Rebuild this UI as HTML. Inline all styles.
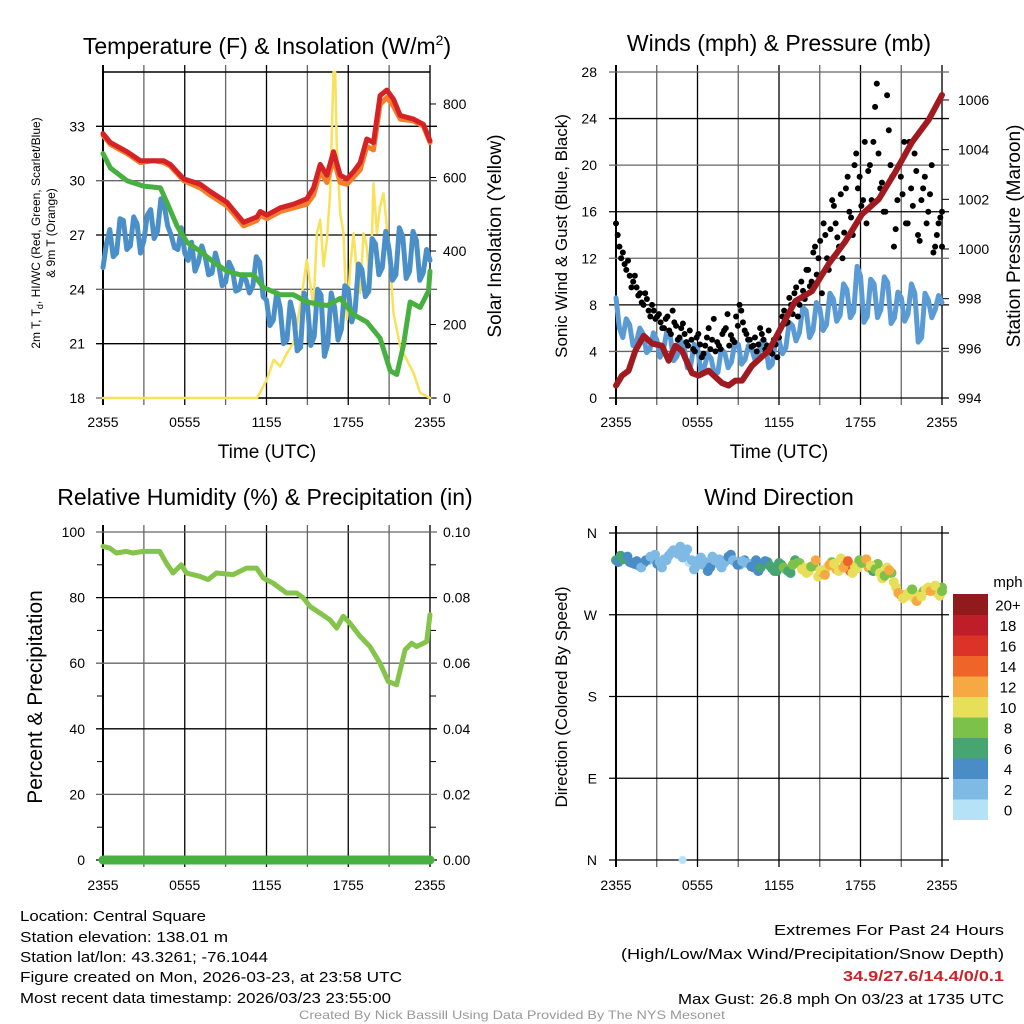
<!DOCTYPE html>
<html><head><meta charset="utf-8"><style>
html,body{margin:0;padding:0;background:#fff;}
svg{display:block;font-family:"Liberation Sans",Arial,sans-serif;}
</style></head><body>
<svg id="chart" width="1024" height="1024" viewBox="0 0 1024 1024" xmlns="http://www.w3.org/2000/svg">
<rect width="1024" height="1024" fill="#fff"/>
<g id="layer"></g>
<text x="267" y="54" text-anchor="middle" font-size="23">Temperature (F) &amp; Insolation (W/m<tspan dy="-9" font-size="14">2</tspan><tspan dy="9">)</tspan></text>
<text x="779" y="51" text-anchor="middle" font-size="23">Winds (mph) &amp; Pressure (mb)</text>
<text x="265" y="505" text-anchor="middle" font-size="23">Relative Humidity (%) &amp; Precipitation (in)</text>
<text x="779" y="505" text-anchor="middle" font-size="23">Wind Direction</text>
<text x="267" y="458" text-anchor="middle" font-size="19">Time (UTC)</text>
<text x="779" y="458" text-anchor="middle" font-size="19">Time (UTC)</text>
<g font-size="12">
<text transform="translate(40,233) rotate(-90)" text-anchor="middle">2m T, T<tspan font-size="9" dy="3">d</tspan><tspan dy="-3">, HI/WC (Red, Green, Scarlet/Blue)</tspan></text>
<text transform="translate(55,233) rotate(-90)" text-anchor="middle">&amp; 9m T (Orange)</text>
</g>
<text transform="translate(501,236) rotate(-90)" text-anchor="middle" font-size="19">Solar Insolation (Yellow)</text>
<text transform="translate(567,236) rotate(-90)" text-anchor="middle" font-size="17">Sonic Wind &amp; Gust (Blue, Black)</text>
<text transform="translate(1020,236) rotate(-90)" text-anchor="middle" font-size="19">Station Pressure (Maroon)</text>
<text transform="translate(42,697) rotate(-90)" text-anchor="middle" font-size="21">Percent &amp; Precipitation</text>
<text transform="translate(567,697) rotate(-90)" text-anchor="middle" font-size="17">Direction (Colored By Speed)</text>
<g font-size="15">
<text x="20" y="921" textLength="186" lengthAdjust="spacingAndGlyphs">Location: Central Square</text>
<text x="20" y="942" textLength="208" lengthAdjust="spacingAndGlyphs">Station elevation: 138.01 m</text>
<text x="20" y="962" textLength="248" lengthAdjust="spacingAndGlyphs">Station lat/lon: 43.3261; -76.1044</text>
<text x="20" y="982" textLength="382" lengthAdjust="spacingAndGlyphs">Figure created on Mon, 2026-03-23, at 23:58 UTC</text>
<text x="20" y="1003" textLength="371" lengthAdjust="spacingAndGlyphs">Most recent data timestamp: 2026/03/23 23:55:00</text>
</g>
<g font-size="15" text-anchor="end">
<text x="1004" y="935" textLength="230" lengthAdjust="spacingAndGlyphs">Extremes For Past 24 Hours</text>
<text x="1004" y="959" textLength="383" lengthAdjust="spacingAndGlyphs">(High/Low/Max Wind/Precipitation/Snow Depth)</text>
<text x="1004" y="981" fill="#cc2229" font-weight="bold" textLength="161" lengthAdjust="spacingAndGlyphs">34.9/27.6/14.4/0/0.1</text>
<text x="1004" y="1004" textLength="326" lengthAdjust="spacingAndGlyphs">Max Gust: 26.8 mph On 03/23 at 1735 UTC</text>
</g>
<text x="512" y="1019" text-anchor="middle" font-size="12" fill="#999" textLength="426" lengthAdjust="spacingAndGlyphs">Created By Nick Bassill Using Data Provided By The NYS Mesonet</text>
</svg>
<script>
// ---- Temperature panel data ----
const tRedHours=[0,0.54,1.76,2.74,3.72,4.45,4.94,5.92,7.14,7.87,9.10,10.32,11.30,11.54,12.03,13.01,13.99,14.96,15.45,15.94,16.43,16.92,17.41,17.90,18.39,18.88,19.36,19.85,20.34,20.83,21.32,21.81,22.79,23.52,24];
const tempRed=[32.6,32.1,31.6,31.1,31.1,31.1,30.9,30.1,29.8,29.4,28.8,27.7,28.0,28.3,28.1,28.5,28.7,29.0,29.6,30.9,30.3,31.6,30.3,30.1,30.5,31.0,32.3,32.1,34.7,35.0,34.5,33.6,33.4,33.1,32.2];
const temp9m=[32.5,32.0,31.5,31.0,31.1,31.0,30.8,30.0,29.6,29.2,28.6,27.5,27.8,28.1,27.9,28.3,28.5,28.7,29.2,30.5,29.9,31.2,29.9,29.8,30.2,30.6,31.9,31.7,34.2,34.6,34.1,33.4,33.3,33.0,32.1];
const tDewHours=[0,0.54,1.76,2.98,4.21,4.69,5.43,6.16,7.14,8.12,9.10,10.07,11.05,11.78,13.01,13.99,14.96,16.43,17.41,18.39,19.36,20.34,21.08,21.56,22.05,22.54,23.28,23.89,24];
const dewpoint=[31.5,30.7,30.0,29.7,29.6,28.8,27.5,26.6,26.1,25.5,25.0,24.8,24.8,24.1,23.7,23.7,23.3,23.1,23.5,22.6,22.2,21.3,19.5,19.3,20.9,23.3,23.0,23.9,25.0];
const windChill=[25.2,26.5,27.3,25.8,26.0,27.9,27.8,26.2,26.4,28.0,27.6,26.0,26.7,28.1,28.4,26.8,27.2,29.0,28.6,27.5,27.0,26.3,26.2,27.4,26.0,25.6,26.6,25.0,25.5,26.4,25.8,24.8,24.9,26.0,25.3,24.2,24.4,25.5,25.1,23.9,24.0,24.8,24.5,23.8,24.2,25.8,25.5,23.6,23.4,22.0,22.3,23.8,23.0,21.0,21.2,23.3,22.5,20.6,20.8,23.8,23.2,20.9,21.4,24.0,23.7,20.3,21.0,23.8,23.0,21.2,21.8,24.2,24.0,22.2,22.8,25.4,25.1,23.6,23.9,26.8,26.5,24.8,25.2,27.2,26.2,24.5,24.8,27.4,26.9,24.6,25.0,27.2,26.7,24.5,24.9,26.2,25.6];
const solarHours=[0,11.30,12.03,12.52,13.01,13.50,13.99,14.47,14.96,15.45,15.70,15.94,16.19,16.43,16.67,16.92,17.04,17.16,17.41,17.65,17.90,18.14,18.39,18.63,18.88,19.12,19.36,19.61,19.85,20.10,20.34,20.59,20.83,21.08,21.32,21.81,22.30,22.79,23.28,24];
const solar=[0,0,50,104,86,122,150,249,376,249,448,485,358,430,557,887,887,684,503,448,213,358,448,340,285,448,412,285,584,448,521,557,467,358,231,140,104,68,14,0];
const tempTicks=[18,21,24,27,30,33];
const solarTicks=[0,200,400,600,800];
const timeTickLabels=["2355","0555","1155","1755","2355"];
// ---- Wind panel data ----
const presHours=[0,0.44,0.93,1.42,2.04,2.65,3.39,3.88,4.37,4.86,5.60,6.09,6.82,7.80,8.29,8.79,9.28,10.01,11.24,12.22,13.20,14.43,15.66,16.88,18.11,19.34,20.56,21.79,23.02,24];
const pressure=[994.5,994.9,995.1,995.9,996.5,996.2,996.1,995.5,996.1,995.9,995.0,994.9,995.1,994.6,994.5,994.7,994.7,995.3,995.9,996.9,997.9,998.3,999.4,1000.3,1001.4,1002.0,1003.1,1004.3,1005.2,1006.2];
const windSpeed=[8.6,6.0,5.2,6.8,6.3,4.5,4.8,6.0,5.5,3.9,4.2,5.6,5.0,3.5,4.1,5.8,5.3,3.2,3.6,5.0,4.5,2.6,2.8,4.6,4.3,2.3,2.6,3.8,3.4,2.0,2.2,4.2,3.9,2.6,3.1,4.8,4.6,2.9,3.3,4.5,4.2,3.2,3.8,4.9,4.7,2.6,2.9,5.0,5.0,3.8,4.3,6.5,6.2,4.9,5.6,7.8,7.5,5.2,5.8,8.2,7.7,5.8,6.3,9.0,8.5,6.6,7.1,9.8,9.3,6.9,7.4,11.3,10.5,6.5,7.0,10.2,9.8,6.9,7.6,10.4,9.9,6.4,6.9,9.1,8.6,6.6,7.2,9.8,9.0,4.8,5.2,9.0,8.4,6.9,7.6,8.8,8.2];
const windGust=[15,13,12.5,11,10.5,10,9.5,9,8,8.5,7,7.5,7,6.5,6,7,5.5,6.5,5,6,5.5,4.5,5,4,5.5,3.5,4.5,6,5,4,4.5,5.5,6,4.5,5,7,8,6.5,5.5,5,4.5,4,6,5,4.5,4,5,3.5,6,7.5,6.5,8,9,7,10,8.5,11,10,13,12,9,14,11,17,15,13,12,18,16,14,21,19,17,15,20,22,27,18,16,26,20,13,17,19,22,15,18,21,14,17,19,16,20,13,15,16];
const windGustB=[14,12,11.5,11.8,9.5,10.5,8.8,8.2,9,7.5,8,6.8,7.2,6,6.8,5.8,7.5,6.2,5.2,6.4,4.8,5.8,4.2,5.2,4.6,3.8,5.2,4.2,6.8,4.8,4.2,5.8,7.2,5.4,4.8,6.2,7.5,5.8,5,4.4,5.2,4.6,5.5,4.2,5.8,3.8,4.6,5.2,7,6.4,8.6,7.2,9.5,8,9.2,11,9.6,12.5,10.6,13.5,15,12,14.5,16.5,13.8,17.5,14.2,19,15.5,20,18,16.5,22,19.5,17,25,21,18.5,16,23,19,14.5,20,17.5,15,22,16.5,19.5,13.5,18,15,17.5,12.5,14,15.5,13];
const windTicks=[0,4,8,12,16,20,24,28];
const presTicks=[994,996,998,1000,1002,1004,1006];
// ---- RH panel data ----
const rhHours=[0,0.49,0.98,1.71,2.20,2.94,4.16,4.65,5.14,5.75,6.12,7.10,7.71,8.33,9.55,10.53,11.27,11.76,12.49,13.47,14.21,14.70,15.19,15.92,16.66,17.15,17.63,18.12,18.86,19.59,20.33,20.94,21.55,22.17,22.65,23.02,23.76,24];
const rh=[95.6,95.1,93.6,94.1,93.6,94.1,94.1,90.5,87.5,90.0,87.5,86.5,85.5,87.5,87.0,89.0,89.0,86.0,84.4,81.4,81.4,79.9,77.3,75.3,73.2,70.7,74.3,72.2,68.2,65.1,60.0,54.4,53.4,64.1,66.1,65.1,66.6,74.8];
const precip=[0,0,0,0,0,0,0,0,0,0,0,0,0,0,0,0,0,0,0,0,0,0,0,0,0];
const rhTicks=[0,20,40,60,80,100];
const precipTicks=["0.00","0.02","0.04","0.06","0.08","0.10"];
// ---- Direction panel data ----
const dirDeg=[330,335,332,328,326,324,327,330,332,326,322,330,338,340,345,336,328,320,330,325,318,334,327,322,330,336,328,325,330,326,322,318,326,328,321,318,325,320,316,330,327,322,318,324,312,316,322,328,320,332,325,318,324,330,328,322,318,326,310,322,316,300,292,290,295,288,292,296,300,298,294,300];
const dirSpeed=[6,7,5,4,4,5,4,3,3,4,2,3,2,3,3,2,1,3,3,2,4,3,2,3,4,4,3,2,4,3,4,5,4,6,5,6,7,8,7,6,9,10,11,8,10,12,11,9,13,10,12,15,11,9,10,12,7,8,10,11,9,11,15,10,12,11,10,8,11,12,10,9];
const dirDegB=[328,331,334,327,329,322,330,334,336,328,331,335,341,337,333,342,330,324,333,328,322,330,331,327,334,330,325,329,327,323,330,322,329,324,318,327,322,318,325,327,320,316,323,330,319,314,325,326,318,322,329,316,321,327,331,324,320,316,313,319,306,294,288,293,298,285,290,298,296,302,291,296];
const dirSpeedB=[5,6,4,4,5,3,4,2,3,3,2,2,3,2,3,3,2,2,3,3,4,2,3,3,4,3,4,3,3,4,5,6,5,6,7,6,8,7,9,8,10,11,9,12,10,13,12,10,11,12,14,10,11,9,12,10,8,11,9,12,10,12,10,11,9,12,11,10,13,10,11,9];
const outlierHours=[4.9];
const outlierDir=[0];
const outlierSpeed=[1];
const dirTickLabels=["N","E","S","W","N"];
const speedBinLabels=["0","2","4","6","8","10","12","14","16","18","20+"];
const speedBinColors=["#b6e2f8","#7fbae5","#4a8cc6","#46a571","#7cc14a","#e7df5a","#f6a942","#ef6429","#dc3329","#bd1e27","#911a1d"];

const NS="http://www.w3.org/2000/svg";
const layer=document.getElementById('layer');
function mk(tag,attrs,parent){const e=document.createElementNS(NS,tag);for(const k in attrs)e.setAttribute(k,attrs[k]);(parent||layer).appendChild(e);return e;}
function scale(d0,d1,r0,r1){return v=>r0+(v-d0)/(d1-d0)*(r1-r0);}
function pathD(xs,ys,fx,fy){return xs.map((x,i)=>(i?'L':'M')+fx(x).toFixed(1)+','+fy(ys[i]).toFixed(1)).join('');}
function idxHours(arr,off){off=off||0;return arr.map((_,i)=>Math.min(24,(i+off)*24/(arr.length-1)));}

function frame(L,T,R,B,name){
  const g=mk('g',{});
  
  
  const fx=scale(0,24,L,R);
  for(let h=3;h<24;h+=3){const x=fx(h);mk('line',{x1:x,y1:T-7,x2:x,y2:B+7,stroke:(h%6?'#666':'#000'),'stroke-width':1.3},g);}
  mk('line',{x1:L,y1:T-7,x2:L,y2:B+7,stroke:'#000','stroke-width':2},g);
  mk('line',{x1:R,y1:T-7,x2:R,y2:B+7,stroke:'#555','stroke-width':2},g);
  return {g,fx};
}
function hgrid(g,L,R,y,major){mk('line',{x1:L-7,y1:y,x2:R+7,y2:y,stroke:major?'#000':'#666','stroke-width':1.3},g);}
function label(x,y,t,anchor,size,parent){const e=mk('text',{x:x,y:y,'text-anchor':anchor,'font-size':size},parent);e.textContent=t;return e;}
function xLabels(fx,y){timeTickLabels.forEach((t,i)=>{const e=label(fx(i*6),y,t,'middle',14);});}
function line(xs,ys,fx,fy,color,w,name){const p=mk('path',{d:pathD(xs,ys,fx,fy),fill:'none',stroke:color,'stroke-width':w,'stroke-linejoin':'round','stroke-linecap':'round'});return p;}

// ===== Panel 1 =====
(function(){
  const L=103,T=72,R=430,B=398;
  const {g,fx}=frame(L,T,R,B,'temperature-panel');
  const fy=scale(18,36,B,T), fs=scale(0,887,B,T);
  tempTicks.forEach((v,i)=>{hgrid(g,L,R,fy(v),i%2===1);const e=label(85,fy(v)+5,String(v),'end',14);});
  solarTicks.forEach(v=>{const e=label(443,fs(v)+5,String(v),'start',14);mk('line',{x1:R,y1:fs(v),x2:R+6,y2:fs(v),stroke:'#000'});});
  mk('line',{x1:L,y1:T,x2:R,y2:T,stroke:'#000','stroke-width':1.5},g);
  xLabels(fx,427);
  line(solarHours,solar,fx,fs,'#f9e15a',2.5,'solar-insolation-line');
  line(idxHours(windChill),windChill,fx,fy,'#4a8fc8',5,'wind-chill-line');
  line(tDewHours,dewpoint,fx,fy,'#47b040',5,'dewpoint-line');
  line(tRedHours,temp9m,fx,fy,'#f57e2a',5,'temp-9m-line');
  line(tRedHours,tempRed,fx,fy,'#d42227',5,'temp-2m-line');
  mk('line',{x1:L,y1:B,x2:R,y2:B,stroke:'#000','stroke-width':1.5},g);
})();

// ===== Panel 2 =====
(function(){
  const L=616,T=72,R=942,B=398;
  const {g,fx}=frame(L,T,R,B,'winds-panel');
  const fy=scale(0,28,B,T), fp=scale(994,1006.2,B,T+23);
  windTicks.forEach((v,i)=>{hgrid(g,L,R,fy(v),i%2===0);const e=label(597,fy(v)+5,String(v),'end',14);});
  presTicks.forEach(v=>{const e=label(958,fp(v)+5,String(v),'start',14);mk('line',{x1:R,y1:fp(v),x2:R+7,y2:fp(v),stroke:'#000'});});
  xLabels(fx,427);
  line(idxHours(windSpeed),windSpeed,fx,fy,'#5b9bd5',5,'sonic-wind-line');
  const gh=idxHours(windGust);
  windGust.forEach((v,i)=>{const c=mk('circle',{cx:fx(gh[i]),cy:fy(v),r:3,fill:'#000'});});
  const gh2=idxHours(windGustB,0.5);
  windGustB.forEach((v,i)=>{const c=mk('circle',{cx:fx(gh2[i]),cy:fy(v),r:3,fill:'#000'});});
  line(presHours,pressure,fx,fp,'#a11a1f',6,'pressure-line');
})();

// ===== Panel 3 =====
(function(){
  const L=103,T=532,R=430,B=860;
  const {g,fx}=frame(L,T,R,B,'humidity-panel');
  const fy=scale(0,100,B,T), fpr=scale(0,0.1,B,T);
  rhTicks.forEach((v,i)=>{hgrid(g,L,R,fy(v),i%2===0);const e=label(85,fy(v)+5,String(v),'end',14);const e2=label(443,fy(v)+5,precipTicks[i],'start',14);});
  for(let v=10;v<100;v+=20){mk('line',{x1:L-6,y1:fy(v),x2:L,y2:fy(v),stroke:'#000'});mk('line',{x1:R,y1:fy(v),x2:R+6,y2:fy(v),stroke:'#000'});}
  xLabels(fx,890);
  line(rhHours,rh,fx,fy,'#84c44a',5,'rh-line');
  line(idxHours(precip),precip,fx,fpr,'#47b040',9,'precip-line');
})();

// ===== Panel 4 =====
(function(){
  const L=616,T=533,R=942,B=860;
  const {g,fx}=frame(L,T,R,B,'direction-panel');
  const fy=scale(0,360,B,T);
  dirTickLabels.forEach((t,i)=>{hgrid(g,L,R,fy(i*90),true);const e=label(597,fy(i*90)+5,t,'end',14);});
  xLabels(fx,890);
  const col=s=>speedBinColors[Math.min(10,Math.max(0,Math.floor(s/2)))];
  const dh=idxHours(dirDeg);
  dirDeg.forEach((d,i)=>{const c=mk('circle',{cx:fx(dh[i]),cy:fy(d),r:5,fill:col(dirSpeed[i])});});
  const dh2=idxHours(dirDegB,0.5);
  dirDegB.forEach((d,i)=>{const c=mk('circle',{cx:fx(dh2[i]),cy:fy(d),r:5,fill:col(dirSpeedB[i])});});
  outlierHours.forEach((h,i)=>{const c=mk('circle',{cx:fx(h),cy:fy(outlierDir[i]),r:4,fill:col(outlierSpeed[i])});});
  const cb=mk('g',{});
  
  
  const top=594,h=20.5;
  speedBinColors.forEach((c,i)=>{const k=10-i;mk('rect',{x:953,y:top+k*h,width:35,height:h+0.5,fill:c},cb);label(1008,top+k*h+h/2+6,speedBinLabels[i],'middle',15,cb);});
  label(1008,587,'mph','middle',15,cb);
})();
</script>
</body></html>
